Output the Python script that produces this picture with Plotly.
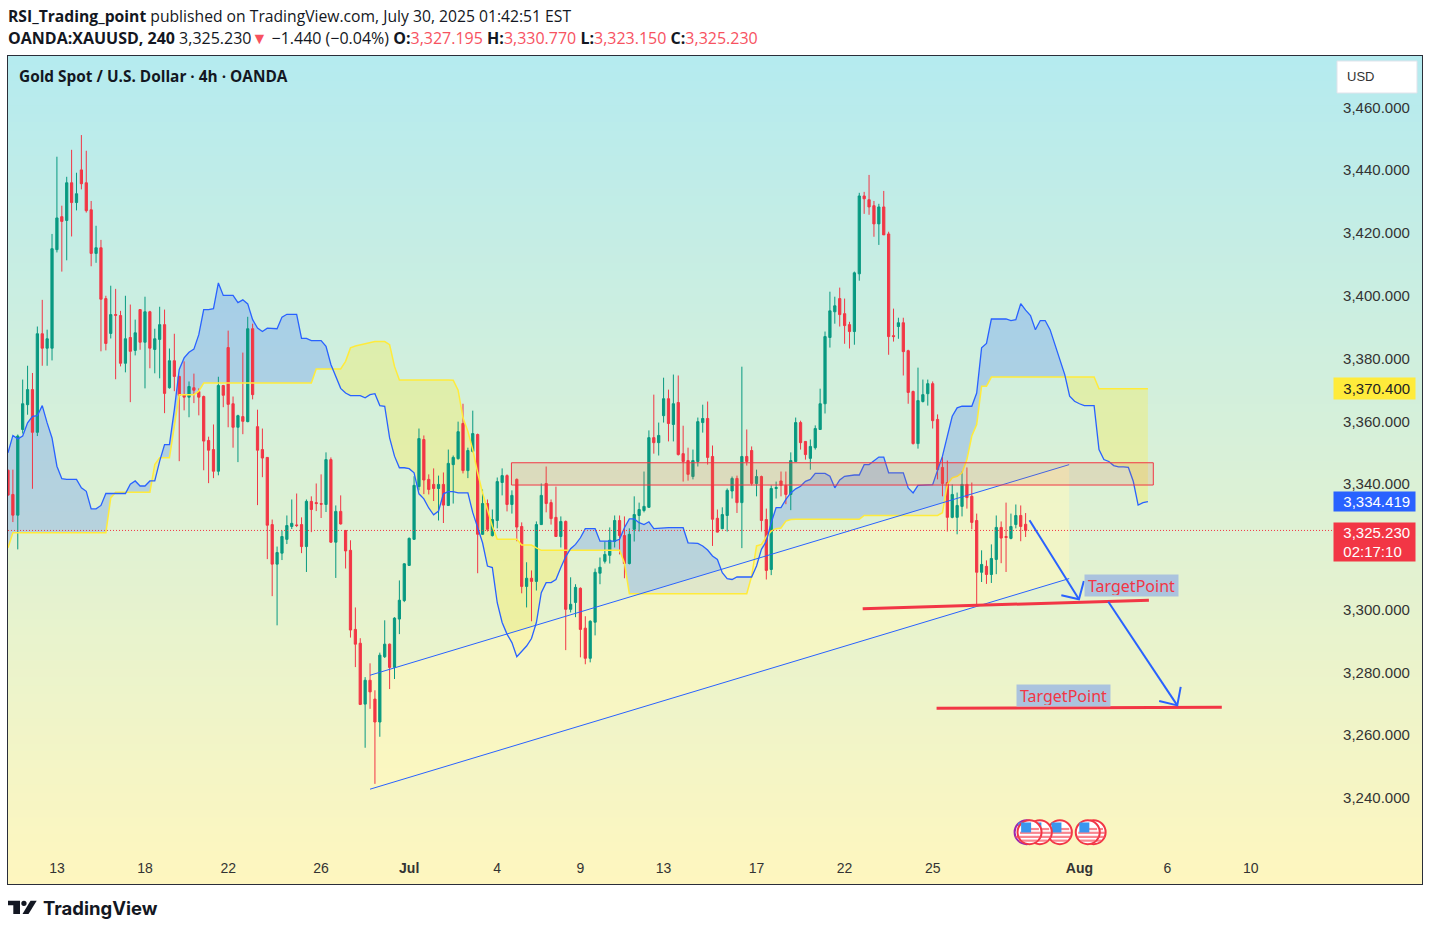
import numpy as np
import plotly.graph_objects as go

# candles, oldest first
opens = [
    3344.4,3336.7,3330.1,3357.4,3365.3,3370.1,3356.5,3387.9,3383.3,3383.3,
    3414.7,3425.2,3424.0,3436.0,3429.7,3440.1,3436.0,3427.4,3413.5,3415.3,
    3399.1,3388.0,3394.0,3393.7,3378.5,3386.7,3382.6,3395.6,3385.2,3394.9,
    3382.9,3386.1,3390.8,3370.7,3379.3,3374.3,3368.5,3367.7,3370.7,3369.5,
    3367.9,3353.9,3351.0,3344.1,3371.4,3383.5,3365.6,3358.1,3361.5,3359.9,
    3389.5,3358.3,3351.0,3348.5,3327.1,3314.5,3318.0,3322.4,3326.5,3327.0,
    3327.1,3320.1,3334.5,3334.1,3333.8,3333.5,3347.8,3321.5,3331.3,3325.2,
    3318.9,3293.7,3289.3,3269.9,3277.5,3271.5,3264.2,3285.0,3289.0,3281.6,
    3297.0,3302.9,3314.1,3322.4,3339.2,3354.2,3341.5,3339.9,3338.6,3339.9,
    3333.2,3346.2,3348.1,3359.3,3344.3,3350.4,3355.8,3324.0,3333.8,3323.6,
    3328.4,3340.5,3342.7,3333.5,3341.5,3326.5,3307.4,3310.0,3309.0,3327.1,
    3340.2,3334.1,3329.4,3323.3,3328.1,3300.1,3302.3,3306.8,3294.1,3284.5,
    3296.0,3311.6,3315.4,3317.3,3321.7,3328.4,3323.6,3314.7,3325.6,3330.0,
    3331.6,3332.6,3354.8,3353.2,3361.8,3367.2,3359.0,3366.0,3349.7,3347.5,
    3342.4,3347.2,3359.6,3360.9,3348.8,3329.1,3325.8,3330.0,3337.8,3341.8,
    3334.1,3348.8,3350.7,3340.2,3342.4,3328.7,3312.8,3338.6,3341.0,3339.6,
    3336.7,3347.2,3359.6,3353.6,3348.2,3351.6,3357.4,3365.6,3386.7,3394.9,
    3399.1,3394.3,3390.8,3388.6,3407.0,3431.8,3430.6,3428.7,3422.9,3428.3,
    3419.7,3387.3,3390.2,3391.4,3382.5,3369.5,3352.9,3366.3,3368.8,3372.0,
    3360.6,3345.3,3340.5,3329.4,3329.4,3332.9,3339.9,3336.1,3328.4,3311.9,
    3313.8,3311.2,3316.0,3326.2,3323.3,3322.7,3327.1,3330.0,3327.195,
]
highs = [
    3344.6,3344.6,3355.8,3373.3,3377.7,3375.4,3390.2,3398.7,3389.2,3419.7,
    3444.3,3428.7,3437.9,3446.5,3439.2,3451.2,3446.2,3430.2,3422.3,3417.8,
    3400.0,3403.2,3402.2,3395.2,3400.0,3397.2,3392.4,3395.7,3399.7,3395.2,
    3389.5,3396.5,3395.6,3383.2,3387.9,3374.5,3379.1,3372.7,3375.2,3370.5,
    3368.2,3355.1,3359.0,3374.2,3371.6,3388.9,3367.9,3362.1,3381.9,3393.3,
    3391.1,3363.7,3357.7,3348.6,3328.7,3320.1,3325.2,3330.0,3335.1,3337.0,
    3329.4,3335.1,3336.1,3340.2,3343.1,3350.1,3348.5,3333.2,3336.4,3325.4,
    3322.1,3300.7,3290.9,3278.5,3282.9,3274.3,3286.3,3296.6,3289.2,3297.6,
    3309.3,3314.8,3323.0,3342.5,3357.7,3355.5,3343.1,3345.0,3342.7,3343.7,
    3351.0,3349.1,3359.9,3365.6,3351.6,3363.4,3356.1,3338.3,3335.1,3331.9,
    3342.1,3345.0,3343.1,3338.0,3341.8,3327.8,3315.1,3312.5,3328.1,3340.2,
    3345.6,3335.1,3339.2,3329.7,3328.4,3310.3,3308.1,3307.1,3297.9,3296.6,
    3313.1,3316.6,3321.7,3326.2,3330.0,3330.0,3329.7,3325.9,3336.1,3334.1,
    3344.0,3357.1,3368.5,3359.6,3373.9,3370.1,3374.9,3374.6,3358.6,3351.6,
    3351.0,3361.2,3365.3,3366.3,3352.3,3331.9,3332.6,3338.6,3342.4,3342.7,
    3377.4,3357.4,3352.0,3344.6,3342.7,3332.2,3339.6,3340.8,3344.0,3344.0,
    3350.1,3361.2,3360.2,3353.7,3354.2,3358.7,3370.4,3388.6,3401.3,3399.7,
    3402.6,3399.1,3391.7,3407.7,3432.8,3433.1,3438.5,3430.2,3429.3,3433.4,
    3420.4,3395.9,3393.0,3393.0,3382.8,3369.8,3377.1,3373.3,3373.3,3372.7,
    3362.2,3348.8,3347.5,3339.9,3337.3,3344.0,3345.3,3340.5,3330.6,3318.9,
    3315.7,3320.8,3330.0,3328.1,3334.1,3330.6,3333.5,3333.2,3330.77,
]
lows = [
    3336.3,3327.9,3319.2,3356.1,3362.1,3338.5,3355.3,3377.7,3377.7,3379.4,
    3413.8,3407.7,3411.3,3418.9,3427.2,3433.9,3426.5,3409.4,3410.5,3382.3,
    3382.6,3386.4,3373.4,3377.5,3375.6,3366.1,3381.0,3382.8,3370.5,3376.9,
    3375.3,3373.7,3362.6,3370.4,3369.6,3347.3,3363.5,3361.3,3365.8,3361.9,
    3344.4,3340.3,3341.9,3342.8,3364.5,3358.1,3351.6,3347.0,3355.9,3359.7,
    3367.0,3333.3,3342.2,3316.1,3304.3,3295.0,3315.8,3320.9,3325.7,3326.3,
    3318.0,3312.0,3324.7,3331.4,3329.2,3331.1,3321.3,3310.1,3327.1,3313.1,
    3291.1,3281.7,3269.6,3256.0,3268.4,3244.5,3259.5,3284.6,3274.7,3277.9,
    3292.2,3302.4,3313.9,3322.2,3338.0,3336.8,3336.7,3334.6,3328.4,3327.6,
    3333.0,3333.8,3347.8,3343.4,3341.9,3350.1,3311.6,3323.8,3324.9,3323.3,
    3325.9,3336.4,3331.3,3330.6,3321.8,3305.2,3300.7,3296.3,3306.1,3327.0,
    3331.0,3327.1,3323.2,3319.8,3287.1,3299.1,3297.6,3284.8,3282.6,3283.2,
    3291.8,3308.1,3314.7,3314.7,3319.8,3317.6,3310.0,3314.4,3321.7,3324.9,
    3331.0,3332.5,3349.7,3349.1,3359.6,3353.6,3353.6,3349.1,3340.8,3341.1,
    3341.5,3345.6,3356.4,3346.2,3320.3,3324.6,3325.6,3324.9,3335.4,3330.8,
    3319.6,3345.9,3339.6,3336.1,3324.9,3309.6,3311.0,3335.4,3336.1,3333.6,
    3331.7,3347.2,3351.0,3347.8,3344.6,3351.0,3357.3,3362.5,3383.5,3391.1,
    3390.2,3384.7,3383.2,3384.4,3404.8,3426.1,3425.8,3418.8,3416.2,3419.4,
    3381.2,3385.4,3386.3,3374.6,3365.6,3352.6,3351.3,3366.0,3365.0,3357.7,
    3341.5,3336.1,3324.9,3329.1,3324.0,3329.7,3332.2,3325.6,3301.7,3308.8,
    3308.2,3308.5,3311.3,3314.8,3312.0,3322.4,3325.9,3321.8,3323.15,
]
closes = [
    3336.5,3330.1,3355.3,3365.6,3370.1,3356.5,3387.9,3383.3,3386.3,3415.0,
    3424.8,3423.7,3436.0,3429.7,3432.5,3435.7,3427.1,3413.5,3415.3,3398.9,
    3384.8,3394.0,3393.8,3378.5,3386.3,3382.3,3388.2,3385.2,3394.9,3383.3,
    3386.3,3390.8,3368.9,3379.3,3374.3,3368.3,3367.7,3371.1,3369.9,3367.7,
    3353.7,3350.8,3344.1,3371.4,3368.3,3365.4,3358.1,3361.8,3360.0,3389.5,
    3368.5,3350.8,3348.3,3326.9,3314.5,3318.2,3323.3,3326.8,3327.5,3326.8,
    3320.1,3334.5,3331.9,3333.8,3333.6,3347.8,3321.5,3331.3,3327.3,3318.7,
    3293.5,3289.0,3269.8,3277.5,3273.8,3264.2,3285.5,3289.0,3281.6,3297.3,
    3303.0,3314.6,3322.7,3339.6,3354.5,3341.3,3338.3,3338.6,3339.9,3333.3,
    3346.6,3348.5,3356.7,3344.3,3350.7,3356.1,3324.0,3333.8,3325.6,3328.7,
    3340.8,3342.7,3333.5,3336.4,3326.3,3307.4,3310.0,3309.0,3327.1,3336.4,
    3333.8,3329.0,3323.3,3328.1,3300.1,3301.7,3307.1,3293.7,3284.5,3296.3,
    3311.9,3313.5,3317.6,3322.1,3328.4,3323.6,3314.7,3324.0,3330.3,3331.9,
    3332.9,3354.8,3353.2,3355.5,3367.2,3359.3,3365.6,3349.4,3347.2,3343.1,
    3347.5,3359.9,3360.9,3348.5,3328.8,3324.7,3330.3,3338.0,3341.8,3334.1,
    3348.8,3347.2,3340.2,3342.4,3328.4,3312.5,3338.6,3338.9,3339.6,3336.7,
    3347.5,3359.6,3353.2,3349.4,3352.0,3357.7,3365.6,3387.0,3395.2,3396.8,
    3394.0,3390.5,3388.6,3407.3,3431.8,3430.9,3428.3,3422.9,3428.3,3419.4,
    3387.0,3387.0,3391.4,3382.2,3369.2,3352.9,3366.6,3368.5,3372.0,3360.2,
    3344.6,3340.2,3329.4,3336.7,3333.2,3339.9,3335.7,3327.8,3311.9,3314.4,
    3311.2,3316.3,3326.2,3322.8,3323.0,3326.5,3330.0,3326.5,3325.23,
]

# cloud edges, bar number and price at each bend
blue_bars = [
    1,2,3,4,5,6,7,8,9,10,11,12,13,15,16,17,18,19,20,21,25,26,27,28,29,30,31,32,33,34,
    35,36,37,38,39,40,41,42,43,44,45,47,48,49,50,51,52,53,54,55,56,57,58,60,61,62,63,65,
    66,67,68,69,70,71,73,74,75,76,77,78,79,80,81,82,83,84,85,86,87,88,89,90,91,92,93,95,
    96,97,98,99,100,101,102,103,104,105,106,107,108,109,110,111,112,113,114,115,116,117,
    118,119,121,122,125,126,127,128,129,130,131,132,133,134,135,136,139,140,141,142,143,
    144,145,146,147,148,149,150,153,154,155,156,157,158,159,160,161,162,163,164,165,166,
    168,169,170,171,172,173,174,175,176,177,178,179,180,181,184,185,186,187,188,189,190,
    191,192,193,194,195,196,198,199,200,201,202,205,206,207,208,209,210,211,212,213,214,
    215,216,217,218,219,220,221,223,224,225,226,227,228,229,230,231,232,233,234,
]
blue_vals = [
    3350.0,3355.5,3354.4,3355.3,3359.5,3361.6,3361.8,3365.0,3359.5,3354.7,3345.7,3341.7,3341.5,3341.5,
    3338.8,3337.7,3332.1,3332.1,3333.2,3337.0,3337.0,3340.0,3341.0,3339.4,3339.4,3341.0,3341.0,3347.3,
    3352.6,3352.6,3363.7,3376.5,3380.2,3382.0,3383.0,3387.6,3395.6,3395.6,3395.9,3404.1,3400.1,3400.1,
    3397.8,3398.7,3397.4,3392.4,3389.7,3388.6,3389.7,3389.7,3389.5,3393.2,3394.1,3394.1,3386.4,3386.4,
    3385.7,3385.7,3383.9,3378.1,3374.3,3370.5,3369.0,3368.2,3368.2,3367.5,3368.5,3368.8,3365.0,3364.8,
    3354.7,3348.9,3345.2,3345.2,3344.9,3343.6,3336.9,3335.3,3332.4,3330.2,3331.4,3336.9,3337.6,3337.6,
    3337.2,3337.2,3330.9,3326.1,3321.3,3313.9,3313.4,3302.2,3295.9,3292.2,3289.5,3285.0,3286.8,3288.4,
    3290.8,3295.9,3305.4,3308.6,3308.6,3309.6,3313.4,3316.9,3319.4,3320.8,3322.9,3325.8,3325.8,3321.8,
    3321.8,3322.4,3326.1,3328.9,3328.9,3327.7,3327.1,3328.0,3325.8,3325.9,3326.0,3326.1,3326.1,3321.3,
    3321.2,3321.1,3320.3,3319.0,3317.1,3316.0,3311.8,3309.9,3309.6,3310.4,3310.4,3313.9,3319.2,3321.8,
    3327.7,3332.5,3332.5,3335.1,3337.2,3338.5,3339.3,3340.9,3341.5,3343.4,3343.4,3342.5,3338.8,3341.3,
    3342.5,3342.8,3342.9,3342.9,3346.2,3346.2,3347.3,3348.6,3348.6,3343.6,3343.6,3338.8,3337.2,3339.6,
    3339.7,3339.7,3339.8,3344.4,3348.9,3355.3,3361.6,3364.3,3364.8,3364.8,3369.0,3383.4,3384.8,3392.6,
    3392.6,3392.1,3392.4,3397.5,3395.4,3393.7,3389.2,3392.1,3392.1,3389.2,3384.4,3379.6,3374.9,3368.0,
    3366.4,3365.6,3365.0,3365.0,3351.0,3347.8,3347.2,3345.9,3345.5,3345.5,3345.3,3340.9,3333.3,3334.1,
    3334.4,
]
yellow_bars = [
    1,2,21,22,23,30,31,32,34,35,36,39,40,41,63,64,69,70,71,72,73,74,75,76,78,79,80,81,91,92,93,94,95,96,
    97,98,99,100,101,105,106,108,109,110,126,127,128,152,153,154,155,156,157,158,159,160,161,162,175,176,
    191,192,193,194,195,196,197,198,199,200,201,202,223,224,234,
]
yellow_vals = [
    3319.7,3324.5,3324.5,3335.6,3337.4,3337.4,3346.2,3348.4,3348.4,3357.9,3368.5,3368.5,3369.6,3372.2,
    3372.2,3376.7,3376.7,3379.1,3383.4,3384.0,3384.4,3384.7,3385.1,3385.4,3385.4,3384.4,3377.5,3373.2,
    3373.2,3373.1,3369.9,3361.1,3356.8,3351.0,3343.6,3337.2,3331.9,3326.6,3322.4,3322.4,3320.6,3320.6,
    3319.7,3318.9,3318.9,3314.9,3305.1,3305.1,3310.7,3320.3,3320.8,3323.2,3325.0,3325.8,3326.0,3328.2,
    3328.7,3328.8,3328.8,3330.0,3330.0,3330.9,3339.9,3342.0,3342.5,3343.6,3347.8,3355.3,3359.0,3371.2,
    3371.2,3374.1,3374.1,3370.4,3370.4,
]

# drawings on the chart
channel_bars = [75, 217.9]
channel_upper = [3279.1, 3346.2]
channel_lower = [3242.8, 3309.9]
zone_bars = [103.9, 235.1]
zone_prices = [3339.7, 3346.8]
target1_bars = [175.7, 234.2]
target1_prices = [3300.3, 3303.0]
target2_bars = [190.8, 249.1]
target2_prices = [3268.6, 3268.9]
arrow1_bars = [209.8, 219.9]
arrow1_prices = [3328.5, 3303.3]
arrow1_head_bars = [216.3, 219.9, 220.9]
arrow1_head_prices = [3304.6, 3303.3, 3309.1]
arrow2_bars = [225.9, 240.0]
arrow2_prices = [3302.5, 3269.5]
arrow2_head_bars = [236.3, 240.0, 240.7]
arrow2_head_prices = [3270.9, 3269.5, 3275.4]

event_bars = [222.9, 221.7, 216.0, 211.9, 209.2, 209.8]
event_price = 3229.1

price_ticks = [3460, 3440, 3420, 3400, 3380, 3360, 3340, 3300, 3280, 3260, 3240]
time_ticks = [11, 29, 46, 65, 83, 101, 118, 135, 154, 172, 190, 220, 238, 255]
time_labels = ["13", "18", "22", "26", "<b>Jul</b>", "4", "9", "13", "17", "22", "25", "<b>Aug</b>", "6", "10"]

last_price = 3325.23
ichi_a = 3334.419
ichi_b = 3370.4

GREEN = "#089981"
RED = "#F23645"
BLUE = "#2962FF"
YELLOW = "#FFEB3B"
W, H = 1431, 932
LEFT, RIGHT, TOP, BOTTOM = 8, 1422, 56, 884
PAD = "\u00a0\u00a0"


def paper_x(px):
    return (px - LEFT) / (RIGHT - LEFT)


def paper_y(py):
    return (BOTTOM - py) / (BOTTOM - TOP)


def cloud_paths(bars, a, b):
    # svg paths between the two edges, split where they cross
    up, down = [], []
    for i in range(len(bars) - 1):
        x0, x1 = bars[i], bars[i + 1]
        a0, a1, b0, b1 = a[i], a[i + 1], b[i], b[i + 1]
        d0, d1 = a0 - b0, a1 - b1
        if d0 * d1 < 0:
            t = d0 / (d0 - d1)
            xc = x0 + t * (x1 - x0)
            yc = a0 + t * (a1 - a0)
            parts = [(x0, xc, a0, yc, b0, yc, d0), (xc, x1, yc, a1, yc, b1, d1)]
        else:
            parts = [(x0, x1, a0, a1, b0, b1, d0 + d1)]
        for xs, xe, as_, ae, bs, be, sign in parts:
            seg = "M %.3f,%.3f L %.3f,%.3f L %.3f,%.3f L %.3f,%.3f Z" % (xs, as_, xe, ae, xe, be, xs, bs)
            (up if sign >= 0 else down).append(seg)
    return " ".join(up), " ".join(down)


fig = go.Figure()

fig.add_trace(go.Candlestick(
    x=list(range(1, len(opens) + 1)), open=opens, high=highs, low=lows, close=closes,
    increasing=dict(line=dict(color=GREEN, width=1), fillcolor=GREEN),
    decreasing=dict(line=dict(color=RED, width=1), fillcolor=RED),
    whiskerwidth=0))

fig.add_trace(go.Scatter(x=yellow_bars, y=yellow_vals, mode="lines", line=dict(color=YELLOW, width=1.5)))
fig.add_trace(go.Scatter(x=blue_bars, y=blue_vals, mode="lines", line=dict(color=BLUE, width=1.3)))

for ys in (channel_upper, channel_lower):
    fig.add_trace(go.Scatter(x=channel_bars, y=ys, mode="lines", line=dict(color=BLUE, width=1)))

for xs, ys in ((target1_bars, target1_prices), (target2_bars, target2_prices)):
    fig.add_trace(go.Scatter(x=xs, y=ys, mode="lines", line=dict(color=RED, width=3)))

for xs, ys in ((arrow1_bars, arrow1_prices), (arrow1_head_bars, arrow1_head_prices),
               (arrow2_bars, arrow2_prices), (arrow2_head_bars, arrow2_head_prices)):
    fig.add_trace(go.Scatter(x=xs, y=ys, mode="lines", line=dict(color=BLUE, width=2)))

# economic event flags
for k in event_bars:
    ring = "#9C27B0" if k == event_bars[4] else RED
    fig.add_trace(go.Scatter(x=[k], y=[event_price], mode="markers",
                             marker=dict(size=24, color="white", line=dict(color=ring, width=2))))
    fig.add_trace(go.Scatter(
        x=[k + 0.2, k + 0.2, k, k],
        y=[event_price + 1.0, event_price - 0.2, event_price - 1.5, event_price - 2.7],
        mode="markers", marker=dict(symbol="line-ew", size=[12, 15, 16, 11],
                                    line=dict(color="#F7525F", width=2.2))))
    fig.add_trace(go.Scatter(x=[k - 0.7], y=[event_price + 1.5], mode="markers",
                             marker=dict(symbol="square", size=10, color="#3A96EE")))

# gradient, then cloud and channel under the candles
shapes = []
for i in range(100):
    c0 = np.array([181, 235, 240])
    c1 = np.array([255, 247, 191])
    c = c0 + (c1 - c0) * (i + 0.5) / 100
    shapes.append(dict(type="rect", xref="paper", yref="paper", x0=0, x1=1, y0=1 - (i + 1) / 100 - 0.001,
                       y1=1 - i / 100, layer="below", line=dict(width=0),
                       fillcolor="rgb(%d,%d,%d)" % tuple(c)))

all_bars = list(range(1, 235))
blue_all = np.interp(all_bars, blue_bars, blue_vals)
yellow_all = np.interp(all_bars, yellow_bars, yellow_vals)
up_path, down_path = cloud_paths(all_bars, blue_all, yellow_all)
shapes.append(dict(type="path", xref="x", yref="y", layer="below", path=up_path,
                   fillcolor="rgba(41,98,255,0.22)", line=dict(width=0)))
shapes.append(dict(type="path", xref="x", yref="y", layer="below", path=down_path,
                   fillcolor="rgba(255,235,59,0.3)", line=dict(width=0)))
channel_path = "M %s,%s L %s,%s L %s,%s L %s,%s Z" % (
    channel_bars[0], channel_upper[0], channel_bars[1], channel_upper[1],
    channel_bars[1], channel_lower[1], channel_bars[0], channel_lower[0])
shapes.append(dict(type="path", xref="x", yref="y", layer="below", path=channel_path,
                   fillcolor="rgba(255,247,190,0.55)", line=dict(width=0)))

shapes.append(dict(type="line", xref="paper", yref="y", x0=0, x1=paper_x(1333), y0=last_price, y1=last_price,
                   line=dict(color=RED, width=1, dash="1px,2px")))
shapes.append(dict(type="rect", xref="x", yref="y", x0=zone_bars[0], x1=zone_bars[1], y0=zone_prices[0],
                   y1=zone_prices[1], line=dict(color=RED, width=1), fillcolor="rgba(225,110,65,0.17)"))


def logo_path(points):
    return "M " + " L ".join("%.5f,%.5f" % (paper_x(a), paper_y(b)) for a, b in points) + " Z"


for pts in ([(8, 900.7), (20, 900.7), (20, 914), (13.3, 914), (13.3, 905.3), (8, 905.3)],
            [(30.5, 900.7), (36.7, 900.7), (28.5, 914), (22.5, 914)]):
    shapes.append(dict(type="path", xref="paper", yref="paper", path=logo_path(pts),
                       fillcolor="#131722", line=dict(width=0)))
shapes.append(dict(type="circle", xref="paper", yref="paper", x0=paper_x(21.3), x1=paper_x(26.6),
                   y0=paper_y(906), y1=paper_y(900.7), fillcolor="#131722", line=dict(width=0)))
# USD box
shapes.append(dict(type="rect", xref="paper", yref="paper", x0=paper_x(1337), x1=paper_x(1417),
                   y0=paper_y(93), y1=paper_y(61), fillcolor="white", line=dict(color="#E0E3EB", width=1)))

SANS = "Open Sans"
AX_FONT = "Liberation Sans"
annotations = [
    dict(xref="paper", yref="paper", x=paper_x(6), y=paper_y(16), xanchor="left", yanchor="middle", showarrow=False,
         text="<b>RSI_Trading_point</b> published on TradingView.com, July 30, 2025 01:42:51 EST",
         font=dict(family=SANS, size=15.7, color="#131722")),
    dict(xref="paper", yref="paper", x=paper_x(6), y=paper_y(38), xanchor="left", yanchor="middle", showarrow=False,
         text="<b>OANDA:XAUUSD, 240</b> 3,325.230<span style='color:#F7525F'>▼</span> −1.440 (−0.04%) "
              "<b>O:</b><span style='color:#F7525F'>3,327.195</span> <b>H:</b><span style='color:#F7525F'>3,330.770</span> "
              "<b>L:</b><span style='color:#F7525F'>3,323.150</span> <b>C:</b><span style='color:#F7525F'>3,325.230</span>",
         font=dict(family=SANS, size=16, color="#131722")),
    dict(xref="paper", yref="paper", x=paper_x(17), y=paper_y(76), xanchor="left", yanchor="middle", showarrow=False,
         text="<b>Gold Spot / U.S. Dollar · 4h · OANDA</b>", font=dict(family=SANS, size=15.4, color="#131722")),
    dict(xref="paper", yref="paper", x=paper_x(1345), y=paper_y(76), xanchor="left", yanchor="middle", showarrow=False,
         text="USD", font=dict(family=AX_FONT, size=13, color="#333")),
    dict(xref="paper", yref="paper", x=paper_x(41), y=paper_y(908), xanchor="left", yanchor="middle", showarrow=False,
         text="<b>TradingView</b>", font=dict(family="Inter", size=18.5, color="#131722")),
    dict(xref="paper", yref="y", x=paper_x(1333), y=ichi_b, xanchor="left", yanchor="middle", showarrow=False, align="left",
         width=79, height=19, bgcolor="#FFEB3B", text=PAD + "3,370.400", font=dict(family=AX_FONT, size=15, color="#222")),
    dict(xref="paper", yref="y", x=paper_x(1333), y=ichi_a, xanchor="left", yanchor="middle", showarrow=False, align="left",
         width=79, height=17, bgcolor=BLUE, text=PAD + "3,334.419", font=dict(family=AX_FONT, size=15, color="white")),
    dict(xref="paper", yref="paper", x=paper_x(1333), y=paper_y(542), xanchor="left", yanchor="middle", showarrow=False, align="left",
         width=79, height=36, bgcolor=RED, text=PAD + "3,325.230<br>" + PAD + "02:17:10",
         font=dict(family=AX_FONT, size=15, color="white")),
    dict(x=230.6, y=3307.6, showarrow=False, width=91, height=19, bgcolor="#ABC3DE",
         text="TargetPoint", font=dict(family="Noto Sans", size=16, color=RED)),
    dict(x=216.7, y=3272.6, showarrow=False, width=91, height=19, bgcolor="#ABC3DE",
         text="TargetPoint", font=dict(family="Noto Sans", size=16, color=RED)),
]

fig.update_layout(
    width=W, height=H, showlegend=False, paper_bgcolor="white", plot_bgcolor="rgba(0,0,0,0)",
    margin=dict(l=LEFT, r=W - RIGHT, t=TOP, b=H - BOTTOM), boxgap=0.35,
    shapes=shapes, annotations=annotations,
    xaxis=dict(range=[1, 290.02], rangeslider=dict(visible=False), showgrid=False, zeroline=False,
               tickmode="array", tickvals=time_ticks, ticktext=time_labels, ticks="", ticklabelposition="inside",
               ticklabelstandoff=8, tickfont=dict(family=AX_FONT, size=14, color="#333"),
               showline=True, mirror=True, linecolor="#2a2e39", linewidth=1.3),
    yaxis=dict(range=[3212.59, 3476.39], side="right", showgrid=False, zeroline=False,
               tickmode="array", tickvals=price_ticks, ticktext=["{:,.3f}".format(v) for v in price_ticks],
               ticks="", ticklabelposition="inside", ticklabelstandoff=12,
               tickfont=dict(family=AX_FONT, size=15, color="#333"),
               showline=True, mirror=True, linecolor="#2a2e39", linewidth=1.3),
)

fig.write_html("out.html", post_script="document.body.style.margin='0'", config=dict(displayModeBar=False))
